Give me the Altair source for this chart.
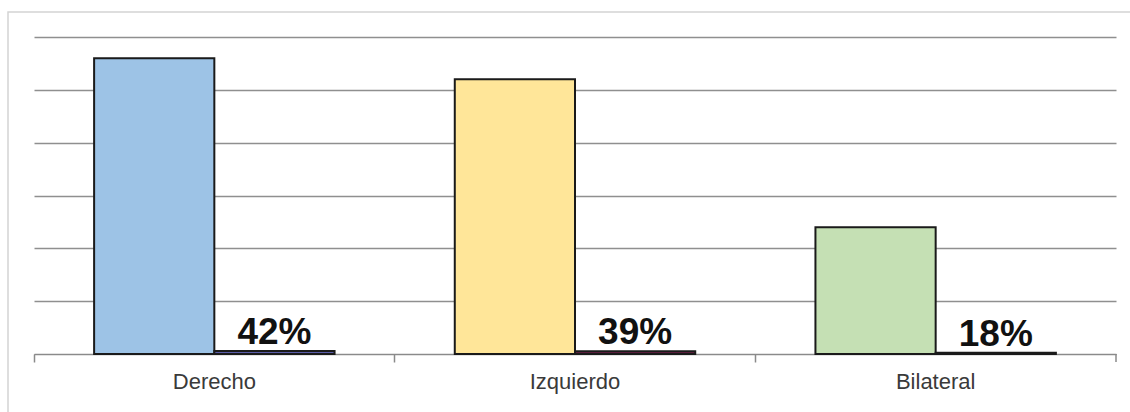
import altair as alt
import pandas as pd

# Laterality counts and their share of the total
categories = ["Derecho", "Izquierdo", "Bilateral"]
counts = [42, 39, 18]
shares = [0.42, 0.39, 0.18]

count_colors = ["#9DC3E6", "#FFE699", "#C5E0B4"]
share_colors = ["#5A5CA8", "#6E1F47", "#111111"]

rows = []
for i, cat in enumerate(categories):
    rows.append({"cat": cat, "serie": "n", "valor": counts[i], "key": f"{cat}-n"})
    rows.append({"cat": cat, "serie": "pct", "valor": shares[i], "key": f"{cat}-pct"})
df = pd.DataFrame(rows)

color_domain = [f"{c}-n" for c in categories] + [f"{c}-pct" for c in categories]
color_range = count_colors + share_colors

W, H = 1082, 317

x_enc = alt.X(
    "cat:N",
    sort=categories,
    title=None,
    scale=alt.Scale(paddingInner=0, paddingOuter=0),
    axis=alt.Axis(
        labelAngle=0,
        labelFontSize=22,
        labelFont="Liberation Sans",
        labelColor="#3a3a3a",
        labelPadding=9,
        bandPosition=0,
        tickSize=8,
        tickColor="#8a8a8a",
        tickWidth=1.5,
        domainColor="#8a8a8a",
        domainWidth=1.2,
        grid=False,
    ),
)
xoff = alt.XOffset("serie:N", sort=["n", "pct"],
                   scale=alt.Scale(paddingInner=0, paddingOuter=0.5))
y_enc = alt.Y(
    "valor:Q",
    title=None,
    scale=alt.Scale(domain=[0, 45], nice=False),
    axis=alt.Axis(
        values=[0, 7.5, 15, 22.5, 30, 37.5, 45],
        labels=False, ticks=False, domain=False,
        grid=True, gridColor="#8f8f8f", gridWidth=1.4,
    ),
)

base = alt.Chart(df)

bars = base.mark_bar(stroke="#1a1a1a", strokeWidth=2).encode(
    x=x_enc,
    xOffset=xoff,
    y=y_enc,
    color=alt.Color("key:N", scale=alt.Scale(domain=color_domain, range=color_range), legend=None),
)

labels = base.transform_filter(alt.datum.serie == "pct").mark_text(
    font="Liberation Sans", fontSize=37, fontWeight="bold", color="#111111",
    baseline="alphabetic", dy=-7,
).encode(
    x=alt.X("cat:N", sort=categories),
    xOffset=xoff,
    y=alt.Y("valor:Q"),
    text=alt.Text("valor:Q", format=".0%"),
)

# closing tick at the right end of the category axis
end_tick = alt.Chart(alt.Data(values=[{}])).mark_rule(color="#8a8a8a", strokeWidth=1.5).encode(
    x=alt.value(W), y=alt.value(H), y2=alt.value(H + 8)
)

# light frame around the figure
frame = alt.Chart(alt.Data(values=[{}])).mark_rect(
    fill=None, stroke="#d4d4d4", strokeWidth=1.5
).encode(
    x=alt.value(-26), x2=alt.value(W + 40), y=alt.value(-25), y2=alt.value(H + 80)
)

chart = alt.layer(frame, bars, labels, end_tick).properties(
    width=W, height=H,
    autosize=alt.AutoSizeParams(type="none"),
    padding={"left": 34, "top": 37, "right": 14, "bottom": 58},
    background="white",
).configure_view(stroke=None)

chart.save("out.html", embed_options={"renderer": "svg", "actions": False})
